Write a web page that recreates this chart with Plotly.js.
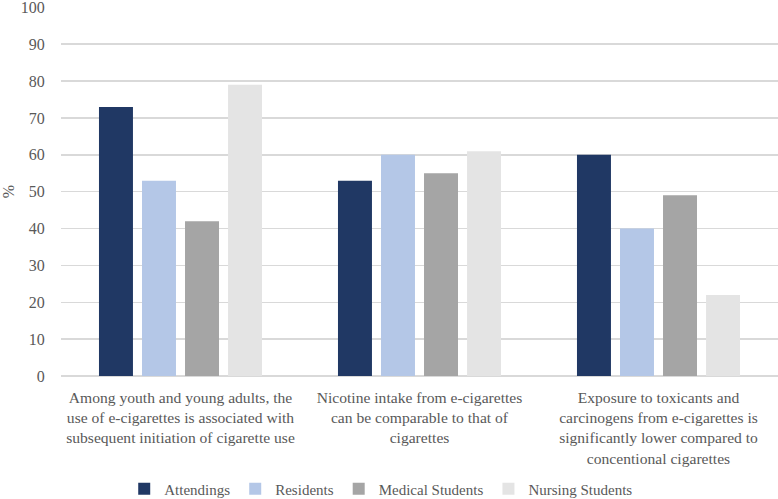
<!DOCTYPE html>
<html>
<head>
<meta charset="utf-8">
<script src="https://cdn.plot.ly/plotly-3.0.1.min.js"></script>
<style>html,body{margin:0;padding:0;background:#fff;}#chart{width:778px;height:499px;}</style>
</head>
<body>
<div id="chart"></div>
<script>
const categories = [
  "Among youth and young adults, the<br>use of e-cigarettes is associated with<br>subsequent initiation of cigarette use",
  "Nicotine intake from e-cigarettes<br>can be comparable to that of<br>cigarettes",
  "Exposure to toxicants and<br>carcinogens from e-cigarettes is<br>significantly lower compared to<br>concentional cigarettes"
];
const seriesNames = ["Attendings", "Residents", "Medical Students", "Nursing Students"];
const attendings = [73, 53, 60];
const residents = [53, 60, 40];
const medicalStudents = [42, 55, 49];
const nursingStudents = [79, 61, 22];
const yTicks = [0, 10, 20, 30, 40, 50, 60, 70, 80, 90, 100];

const colors = ["#203864", "#b4c7e7", "#a5a5a5", "#e4e4e4"];
const values = [attendings, residents, medicalStudents, nursingStudents];
const FF = "Times New Roman";
const txtColor = "#595959";

const data = values.map((v, i) => ({
  type: "bar",
  name: seriesNames[i],
  x: categories,
  y: v,
  marker: {color: colors[i]},
  hoverinfo: "none"
}));

const layout = {
  width: 778, height: 499,
  margin: {l: 61, r: 0, t: 7, b: 123, autoexpand: false},
  paper_bgcolor: "#fff", plot_bgcolor: "#fff",
  barmode: "group",
  bargap: 0.28,
  bargroupgap: 0.21,
  font: {family: FF, size: 16, color: txtColor},
  xaxis: {
    showgrid: false, zeroline: false, showline: false,
    tickfont: {family: FF, size: 15.6, color: txtColor},
    ticks: "outside", ticklen: 7, tickcolor: "rgba(0,0,0,0)",
    automargin: false
  },
  yaxis: {
    range: [0, 100.1], tickvals: yTicks, ticktext: yTicks.map(String),
    showgrid: true, gridcolor: "#d9d9d9", gridwidth: 1.5,
    zeroline: true, zerolinecolor: "#d9d9d9", zerolinewidth: 1.5,
    showline: false,
    ticks: "outside", ticklen: 12, tickcolor: "rgba(0,0,0,0)",
    ticklabeloverflow: "allow",
    tickfont: {family: FF, size: 16, color: txtColor},
    title: {text: "%", font: {family: FF, size: 16, color: txtColor}, standoff: 10},
    automargin: false
  },
  legend: {
    orientation: "h", x: 0.49, xanchor: "center", xref: "container",
    y: 0.02, yanchor: "middle", yref: "container",
    bgcolor: "rgba(0,0,0,0)",
    font: {family: FF, size: 15, color: txtColor},
    traceorder: "normal", itemwidth: 30
  },
  showlegend: true
};

Plotly.newPlot("chart", data, layout, {staticPlot: true, displayModeBar: false});
</script>
</body>
</html>
